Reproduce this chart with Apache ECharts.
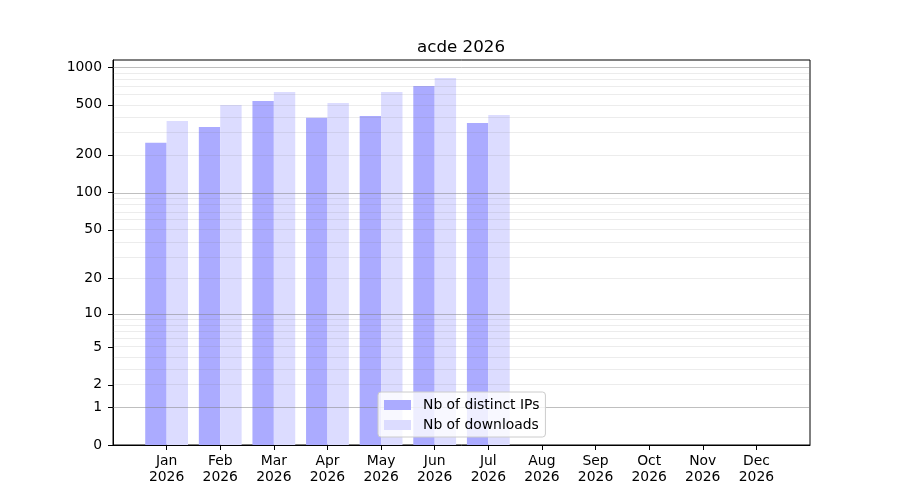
<!DOCTYPE html>
<html lang="en">
<head>
	<meta charset="UTF-8">
	<title>acde 2026</title>
	<script src="https://cdn.jsdelivr.net/npm/echarts@6/dist/echarts.min.js"></script>
	<style>
		html, body { margin: 0; padding: 0; background: #fff; }
	</style>
</head>
<body>
	<div id="chart" style="width:900px; height:500px;"></div>
	<script>
	// data
	var year = '2026';
	var months = ['Jan', 'Feb', 'Mar', 'Apr', 'May', 'Jun', 'Jul', 'Aug', 'Sep', 'Oct', 'Nov', 'Dec'];
	var distinctIPs = [249, 333, 537, 395, 408, 706, 359];
	var downloads = [372, 498, 633, 517, 633, 818, 415];
	var yTicks = [0, 1, 2, 5, 10, 20, 50, 100, 200, 500, 1000];
	var majorGrid = [1, 10, 100, 1000];
	var minorGrid = [2, 3, 4, 5, 6, 7, 8, 9, 20, 30, 40, 50, 60, 70, 80, 90, 200, 300, 400, 500, 600, 700, 800, 900];

	// the y scale is log10(1 + v)
	function tf(v) { return Math.log10(1 + v); }

	function pairs(arr) {
		return arr.map(function (v, i) { return [i + 1, tf(v)]; });
	}

	var font = 'DejaVu Sans';
	var gridLines = [];
	minorGrid.forEach(function (v) {
		gridLines.push({ yAxis: tf(v), lineStyle: { color: 'rgba(128,128,128,0.15)', width: 1, type: 'solid' } });
	});
	majorGrid.forEach(function (v) {
		gridLines.push({ yAxis: tf(v), lineStyle: { color: 'rgba(128,128,128,0.5)', width: 1, type: 'solid' } });
	});

	var monthPos = months.map(function (m, i) { return i + 1; });

	var myChart = echarts.init(document.getElementById('chart'), null, { renderer: 'canvas' });
	var option = {
		animation: false,
		backgroundColor: '#fff',
		textStyle: { fontFamily: font },
		title: {
			text: 'acde ' + year,
			left: 456,
			top: 34,
			textAlign: 'center',
			textStyle: { fontFamily: font, fontSize: 16.7, fontWeight: 'normal', color: '#000' }
		},
		legend: {
			orient: 'vertical',
			left: 378,
			top: 392,
			z: 10,
			padding: [6, 6, 5, 6],
			itemGap: 6,
			itemWidth: 27,
			itemHeight: 10,
			backgroundColor: 'rgba(255,255,255,0.8)',
			borderColor: '#cccccc',
			borderWidth: 1,
			borderRadius: 3,
			textStyle: { fontFamily: font, fontSize: 13.9, color: '#000', padding: [0, 0, 0, 7] },
			data: [
				{ name: 'Nb of distinct IPs', icon: 'rect' },
				{ name: 'Nb of downloads', icon: 'rect' }
			]
		},
		grid: {
			left: 113,
			right: 90,
			top: 60,
			bottom: 55,
			show: true,
			borderColor: '#000',
			borderWidth: 1,
			backgroundColor: 'transparent'
		},
		xAxis: {
			type: 'value',
			min: 0,
			max: 13,
			interval: 1,
			splitLine: { show: false },
			axisLine: { show: true, lineStyle: { color: '#000', width: 1 } },
			axisTick: { show: true, length: 5, customValues: monthPos, lineStyle: { color: '#000' } },
			axisLabel: {
				customValues: monthPos,
				margin: 8,
				color: '#000',
				fontFamily: font,
				fontSize: 13.9,
				lineHeight: 16,
				formatter: function (v) { return months[v - 1] + '\n' + year; }
			}
		},
		yAxis: {
			type: 'value',
			min: 0,
			max: 3.0556,
			splitLine: { show: false },
			axisLine: { show: true, lineStyle: { color: '#000', width: 1 } },
			axisTick: { show: true, length: 5, customValues: yTicks.map(tf), lineStyle: { color: '#000' } },
			axisLabel: {
				customValues: yTicks.map(tf),
				margin: 11,
				color: '#000',
				fontFamily: font,
				fontSize: 13.9,
				formatter: function (v) { return String(Math.round(Math.pow(10, v) - 1)); }
			}
		},
		series: [
			{
				name: 'Nb of distinct IPs',
				type: 'bar',
				barWidth: 21.4,
				barGap: '0%',
				itemStyle: { color: '#ababff' },
				data: pairs(distinctIPs),
				markLine: {
					silent: true,
					symbol: ['none', 'none'],
					label: { show: false },
					z: 5,
					data: gridLines
				}
			},
			{
				name: 'Nb of downloads',
				type: 'bar',
				barWidth: 21.4,
				barGap: '0%',
				itemStyle: { color: '#dcdcff' },
				data: pairs(downloads)
			}
		]
	};
	myChart.setOption(option);
	</script>
</body>
</html>
